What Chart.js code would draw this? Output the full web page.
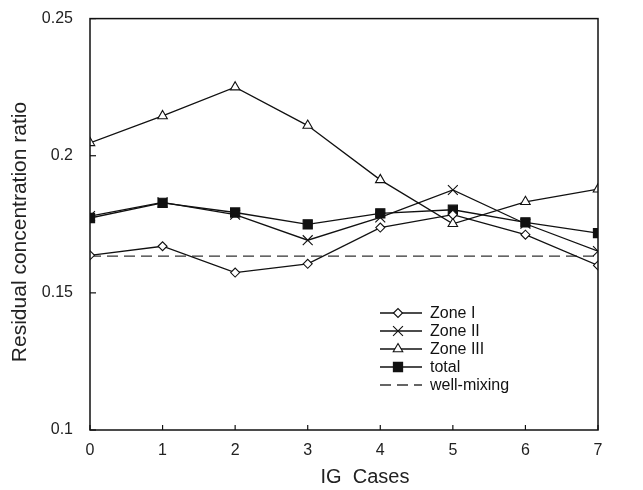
<!DOCTYPE html>
<html>
<head>
<meta charset="utf-8">
<script src="https://cdn.jsdelivr.net/npm/chart.js@4"></script>
<style>
  html, body { margin: 0; padding: 0; background: #fff; }
  #wrap { width: 643px; height: 490px; }
</style>
</head>
<body>
<div id="wrap"><canvas id="residualChart" width="643" height="490"></canvas></div>
<script>
// IG cases on the x axis
const cases = [0, 1, 2, 3, 4, 5, 6, 7];
const xTicks = [0, 1, 2, 3, 4, 5, 6, 7];
const yTicks = [0.1, 0.15, 0.2, 0.25];

// residual concentration ratio per zone
const zoneI = [0.1637, 0.167, 0.1574, 0.1606, 0.1738, 0.1785, 0.1712, 0.1600];
const zoneII = [0.1780, 0.1830, 0.1785, 0.1692, 0.1775, 0.1875, 0.1752, 0.1652];
const zoneIII = [0.2047, 0.2145, 0.2250, 0.2110, 0.1912, 0.1752, 0.1832, 0.1878];
const total = [0.1773, 0.1828, 0.1793, 0.1750, 0.1790, 0.1803, 0.1757, 0.1718];
const wellMixing = [0.1634, 0.1634, 0.1634, 0.1634, 0.1634, 0.1634, 0.1634, 0.1634];

const xTitle = 'IG  Cases';
const yTitle = 'Residual concentration ratio';

const FONT = "'Liberation Sans', Arial, sans-serif";

function pts(values) {
    return cases.map((c, i) => ({ x: c, y: values[i] }));
}

function series(label, values, style, radius, fill, dash) {
    return {
        label: label,
        data: pts(values),
        borderColor: dash ? '#333' : '#111',
        borderWidth: 1.3,
        borderDash: dash || [],
        pointStyle: style,
        pointRadius: radius,
        pointBackgroundColor: fill,
        pointBorderColor: '#111',
        pointBorderWidth: 1.1,
        tension: 0
    };
}

// box around plot, inward ticks, axis titles, legend inside the plot
const framePlugin = {
    id: 'frame',
    afterDraw(chart) {
        const ctx = chart.ctx;
        const a = chart.chartArea;
        const xs = chart.scales.x, ys = chart.scales.y;
        ctx.save();
        ctx.strokeStyle = '#111';
        ctx.lineWidth = 1.5;
        ctx.strokeRect(a.left, a.top, a.right - a.left, a.bottom - a.top);
        ctx.lineWidth = 1.2;
        xTicks.forEach(t => {
            const px = xs.getPixelForValue(t);
            ctx.beginPath();
            ctx.moveTo(px, a.bottom);
            ctx.lineTo(px, a.bottom - 5);
            ctx.stroke();
        });
        yTicks.forEach(t => {
            const py = ys.getPixelForValue(t);
            ctx.beginPath();
            ctx.moveTo(a.left, py);
            ctx.lineTo(a.left + 6, py);
            ctx.stroke();
        });

        // axis titles
        ctx.fillStyle = '#222';
        ctx.font = '20px ' + FONT;
        ctx.textAlign = 'center';
        ctx.textBaseline = 'middle';
        ctx.fillText(xTitle, 365, 477);
        ctx.save();
        ctx.translate(20, 232);
        ctx.rotate(-Math.PI / 2);
        ctx.font = '21px ' + FONT;
        ctx.fillText(yTitle, 0, 0);
        ctx.restore();

        // legend
        const lx0 = 380, lx1 = 422, mx = 398, ly = 313, step = 18;
        ctx.font = '16px ' + FONT;
        ctx.textAlign = 'left';
        ctx.textBaseline = 'middle';
        chart.data.datasets.forEach((ds, i) => {
            const y = ly + i * step;
            ctx.strokeStyle = ds.borderColor;
            ctx.lineWidth = 1.3;
            ctx.setLineDash(ds.borderDash);
            ctx.beginPath();
            ctx.moveTo(lx0, y);
            ctx.lineTo(lx1, y);
            ctx.stroke();
            ctx.setLineDash([]);
            if (ds.pointRadius > 0) {
                ctx.fillStyle = ds.pointBackgroundColor;
                ctx.strokeStyle = '#111';
                ctx.lineWidth = 1.1;
                Chart.helpers.drawPoint(ctx, {
                    pointStyle: ds.pointStyle,
                    radius: ds.pointRadius,
                    rotation: 0,
                    borderWidth: 1.1
                }, mx, y);
            }
            ctx.fillStyle = '#111';
            ctx.fillText(ds.label, 430, y + 1);
        });
        ctx.restore();
    }
};

const ctx = document.getElementById('residualChart').getContext('2d');
const myChart = new Chart(ctx, {
    type: 'line',
    data: {
        datasets: [
            series('Zone I', zoneI, 'rectRot', 4.5, '#fff'),
            series('Zone II', zoneII, 'crossRot', 7, '#fff'),
            series('Zone III', zoneIII, 'triangle', 5.5, '#fff'),
            series('total', total, 'rect', 6.5, '#111'),
            series('well-mixing', wellMixing, 'circle', 0, '#fff', [11, 6])
        ]
    },
    options: {
        responsive: false,
        animation: false,
        layout: { padding: { left: 0, right: 45, top: 14, bottom: 0 } },
        plugins: {
            legend: { display: false },
            tooltip: { enabled: false }
        },
        scales: {
            x: {
                type: 'linear',
                min: 0,
                max: 7,
                afterBuildTicks: s => { s.ticks = xTicks.map(v => ({ value: v })); },
                afterFit: s => { s.height = 60; },
                grid: { display: false },
                border: { display: false },
                ticks: { color: '#222', font: { family: FONT, size: 16 }, padding: 3, maxRotation: 0 }
            },
            y: {
                min: 0.1,
                max: 0.25,
                afterBuildTicks: s => { s.ticks = yTicks.map(v => ({ value: v })); },
                afterFit: s => { s.width = 90; },
                grid: { display: false },
                border: { display: false },
                ticks: {
                    color: '#222',
                    font: { family: FONT, size: 16 },
                    padding: 9,
                    callback: v => String(+v.toFixed(2))
                }
            }
        }
    },
    plugins: [framePlugin]
});
</script>
</body>
</html>
